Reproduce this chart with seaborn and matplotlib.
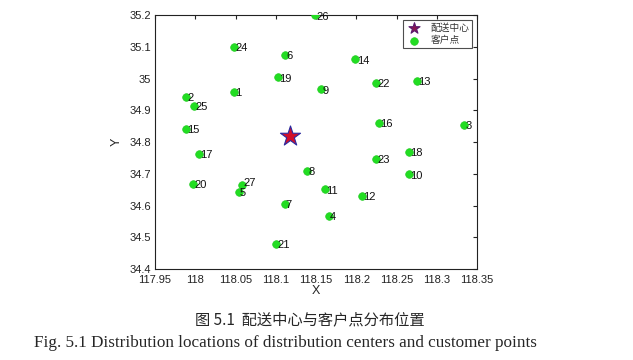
import matplotlib
matplotlib.use("Agg")
import matplotlib.pyplot as plt
import pandas as pd
import seaborn as sns

# customer points (longitude, latitude)
ids = list(range(1, 28))
lon = [118.048, 117.989, 118.334, 118.166, 118.054, 118.112, 118.111, 118.139, 118.156,
       118.265, 118.161, 118.2075, 118.275, 118.199, 117.988, 118.228, 118.005, 118.265,
       118.103, 117.997, 118.100, 118.225, 118.225, 118.048, 117.999, 118.149, 118.058]
lat = [34.958, 34.942, 34.855, 34.567, 34.642, 35.075, 34.606, 34.708, 34.966,
       34.698, 34.651, 34.631, 34.993, 35.060, 34.841, 34.861, 34.762, 34.769,
       35.004, 34.668, 34.480, 34.987, 34.746, 35.099, 34.913, 35.199, 34.664]

# distribution center
center_lon = [118.1175]
center_lat = [34.819]

xticks = [117.95, 118, 118.05, 118.1, 118.15, 118.2, 118.25, 118.3, 118.35]
yticks = [34.4, 34.5, 34.6, 34.7, 34.8, 34.9, 35, 35.1, 35.2]

df = pd.DataFrame({"id": ids, "X": lon, "Y": lat})
center = pd.DataFrame({"X": center_lon, "Y": center_lat})

sns.set_style("white")
plt.rcParams["font.family"] = ["Liberation Sans", "DejaVu Sans"]

fig = plt.figure(figsize=(6.33, 3.6), dpi=100)
ax = fig.add_axes([155 / 633, 1 - 269 / 360, (477 - 155) / 633, (269 - 15) / 360])

sns.scatterplot(data=center, x="X", y="Y", marker="*", s=230, color="#d0102a",
                edgecolor="#2a2aa0", linewidth=0.8, label="配送中心", ax=ax, zorder=3)
sns.scatterplot(data=df, x="X", y="Y", marker="o", s=30, color="#22dd22",
                edgecolor="#22cc22", linewidth=0.5, label="客户点", ax=ax, zorder=3)

for _, r in df.iterrows():
    # 5 and 27 sit almost on top of each other, nudge 27 up a little
    dy = 0.006 if r["id"] == 27 else -0.004
    ax.text(r["X"] + 0.0015, r["Y"] + dy, str(int(r["id"])), fontsize=8,
            va="center", ha="left", color="#111111", zorder=4)

ax.set_xlim(117.95, 118.35)
ax.set_ylim(34.4, 35.2)
ax.set_xticks(xticks)
ax.set_xticklabels([f"{t:g}" for t in xticks])
ax.set_yticks(yticks)
ax.set_yticklabels([f"{t:g}" for t in yticks])
ax.tick_params(direction="in", length=3, width=0.8, labelsize=8, colors="#222222",
               top=True, right=True)
ax.tick_params(axis="x", pad=4)
ax.tick_params(axis="y", pad=3)
for s in ax.spines.values():
    s.set_color("#222222")
    s.set_linewidth(0.8)
ax.set_xlabel("X", fontsize=9, labelpad=0)
ax.set_ylabel("Y", fontsize=9, labelpad=5)

leg = ax.legend(loc="upper right", frameon=True, fancybox=False,
                edgecolor="#222222", borderpad=0.3, handletextpad=0.9,
                labelspacing=0.25, borderaxespad=0.5, handlelength=1.6,
                prop={"family": ["Noto Sans CJK SC"], "size": 7})
leg.get_frame().set_linewidth(0.8)
leg.legend_handles[0].set_sizes([70])
leg.legend_handles[0].set_facecolor("#8a1550")
leg.legend_handles[0].set_edgecolor("#5a1a70")
leg.legend_handles[1].set_sizes([30])
for t in leg.get_texts():
    t.set_color("#333333")

fig.text(310 / 633, 1 - 320 / 360, "图 5.1  配送中心与客户点分布位置",
         ha="center", va="center", fontsize=11, family=["Noto Sans CJK SC", "DejaVu Sans"])
fig.text(285 / 633, 1 - 343 / 360,
         "Fig. 5.1 Distribution locations of distribution centers and customer points",
         ha="center", va="center", fontsize=12.3, family=["Liberation Serif"])

fig.savefig("out.png", dpi=100)
